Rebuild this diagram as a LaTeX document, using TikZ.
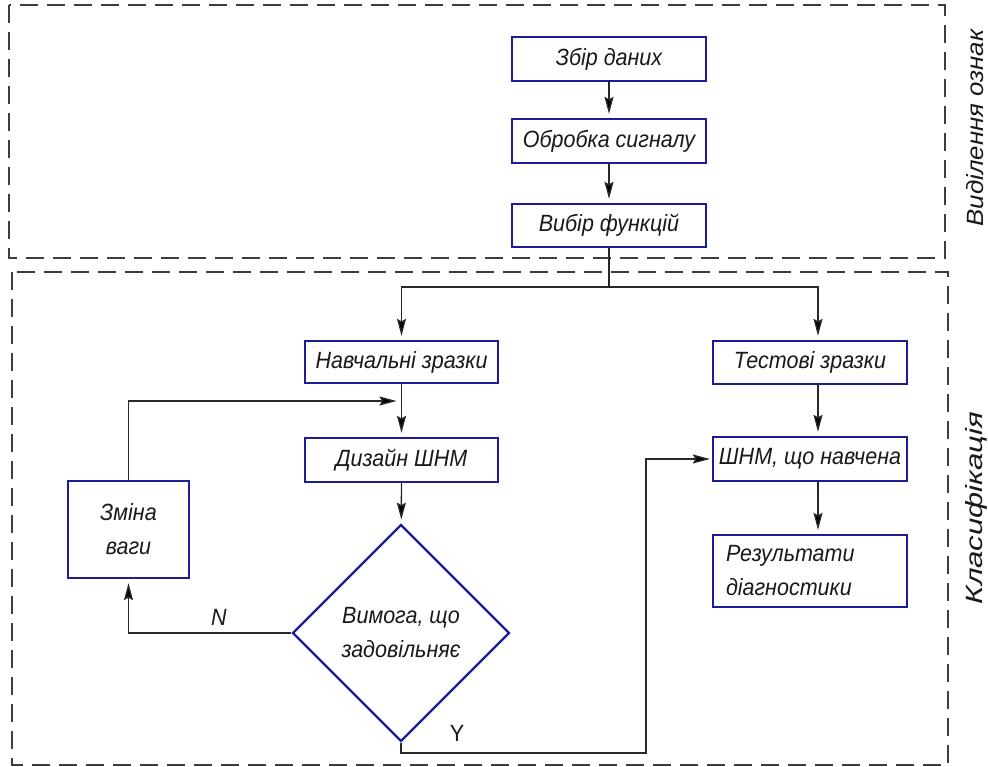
\documentclass[tikz,border=0pt]{standalone}
\usepackage{fontspec}
\setmainfont{Liberation Sans}
\newfontfamily\narrowfont[FakeStretch=0.915]{Liberation Sans}
\usetikzlibrary{shapes.geometric,arrows.meta}
\definecolor{boxblue}{RGB}{28,28,150}
\definecolor{inkc}{RGB}{25,25,25}
\definecolor{linec}{RGB}{40,40,40}
\definecolor{dashc}{RGB}{60,60,60}
\begin{document}
\begin{tikzpicture}[x=1pt,y=-1pt,
  txt/.style={font=\narrowfont\fontsize{23.5}{34}\selectfont\itshape,text=inkc,align=center},
  box/.style={txt,draw=boxblue,line width=2.3pt,fill=white,inner sep=0pt},
  conn/.style={draw=linec,line width=1.3pt},
  arr/.style={conn,-{Stealth[length=17pt,width=9pt,inset=2.5pt,fill=black]},shorten >=4pt},
  region/.style={draw=dashc,line width=1.2pt,dash pattern=on 18pt off 9pt}]
\useasboundingbox (0,0) rectangle (988,767);
\draw[region] (9,5) rectangle (945,258);
\draw[region] (12,272) rectangle (948,765);

\node[box,minimum width=194pt,minimum height=44pt] (zbir) at (609,59) {Збір даних};
\node[box,minimum width=194pt,minimum height=44pt] (obrob) at (609,141) {Обробка сигналу};
\node[box,minimum width=194pt,minimum height=43pt] (vybir) at (609,225.5) {Вибір функцій};
\node[box,minimum width=193pt,minimum height=42pt] (navch) at (401.5,362) {Навчальні зразки};
\node[box,minimum width=194pt,minimum height=43pt] (test) at (810,362.5) {Тестові зразки};
\node[box,minimum width=193pt,minimum height=44pt] (dyzain) at (401.5,460) {Дизайн ШНМ};
\node[box,minimum width=194pt,minimum height=44pt] (shnm) at (810,459) {ШНМ, що навчена};
\node[box,minimum width=121pt,minimum height=97pt] (zmina) at (128.5,529.5) {Зміна\\ваги};
\node[box,minimum width=194pt,minimum height=72pt,align=left,text width=168pt] (rezult) at (810,571) {Результати\\діагностики};
\node[txt,diamond,draw=boxblue,line width=2.3pt,minimum width=217pt,minimum height=217pt,inner sep=0pt] (req) at (401,633) {Вимога, що\\задовільняє};

\node[txt] (nlab) at (219,617) {N};
\node[font=\narrowfont\fontsize{23.5}{26}\selectfont,text=inkc] (ylab) at (457,733) {Y};
\node[txt,rotate=90] (lab1) at (975,128) {\scalebox{1.2}[1]{Виділення ознак}};
\node[txt,rotate=90] (lab2) at (976,508) {\scalebox{1.45}[1]{Класифікація}};

\coordinate (split) at (609,287);
\coordinate (fb) at (401.5,401);
\coordinate (yc) at (646,753);

\draw[arr] (zbir) -- (obrob);
\draw[arr] (obrob) -- (vybir);
\draw[conn] (vybir.south) -- (split);
\draw[arr] (split) -| (navch.north);
\draw[arr] (split) -| ([xshift=8pt]test.north);
\draw[arr] (navch) -- (dyzain);
\draw[arr] (dyzain) -- (req);
\draw[arr] ([xshift=8pt]test.south) -- ([xshift=8pt]shnm.north);
\draw[arr] ([xshift=8pt]shnm.south) -- ([xshift=8pt]rezult.north);
\draw[arr] (req.west) -| (zmina.south);
\draw[arr,shorten >=5pt] (zmina.north) |- (fb);
\draw[arr,shorten >=2pt] (req.south) |- (yc) |- (shnm.west);
\end{tikzpicture}
\end{document}
